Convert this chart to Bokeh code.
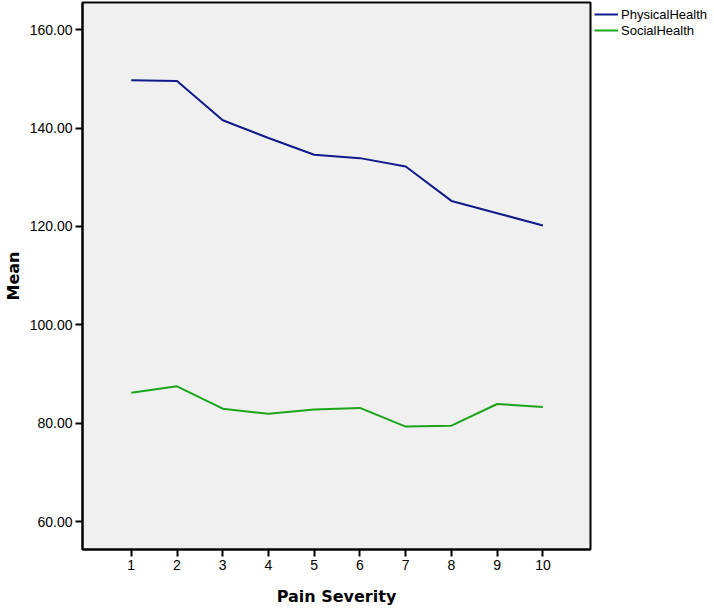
from bokeh.plotting import figure
from bokeh.models import Legend, LegendItem, Range1d, FixedTicker, NumeralTickFormatter
from bokeh.embed import file_html
from bokeh.resources import INLINE

pain_severity = [1, 2, 3, 4, 5, 6, 7, 8, 9, 10]
physical_health = [149.75, 149.6, 141.6, 138.0, 134.6, 133.9, 132.2, 125.2, 122.7, 120.2]
social_health = [86.2, 87.5, 82.95, 81.9, 82.8, 83.1, 79.3, 79.5, 83.9, 83.3]
y_ticks = [60, 80, 100, 120, 140, 160]

p = figure(frame_width=508, frame_height=547, output_backend="svg", toolbar_location=None,
           x_range=Range1d(-0.066, 11.04), y_range=Range1d(54.31, 165.55),
           min_border_left=76, min_border_right=0, min_border_top=2, min_border_bottom=52)

p.background_fill_color = "#f0f0f0"
p.border_fill_color = "white"
p.outline_line_color = "black"
p.outline_line_width = 2
p.xgrid.visible = False
p.ygrid.visible = False

r1 = p.line(pain_severity, physical_health, line_color="#101a8a", line_width=2)
r2 = p.line(pain_severity, social_health, line_color="#1aa51a", line_width=2)

for ax in (p.xaxis[0], p.yaxis[0]):
    ax.axis_line_color = "black"
    ax.axis_line_width = 2
    ax.major_tick_line_color = "black"
    ax.major_tick_line_width = 2
    ax.major_tick_out = 7
    ax.major_tick_in = 0
    ax.minor_tick_line_color = None
    ax.major_label_text_font = "Liberation Sans"
    ax.major_label_text_font_size = "14px"
    ax.major_label_text_color = "black"
    ax.major_label_standoff = 3
    ax.axis_label_text_font = "DejaVu Sans"
    ax.axis_label_text_font_size = "16px"
    ax.axis_label_text_font_style = "bold"
    ax.axis_label_text_color = "black"

p.xaxis.ticker = FixedTicker(ticks=pain_severity)
p.yaxis.ticker = FixedTicker(ticks=y_ticks)
p.yaxis.formatter = NumeralTickFormatter(format="0.00")
p.xaxis.axis_label = "Pain Severity"
p.yaxis.axis_label = "Mean"
p.xaxis.axis_label_standoff = 14
p.yaxis.axis_label_standoff = 4

legend = Legend(items=[LegendItem(label="PhysicalHealth", renderers=[r1]),
                       LegendItem(label="SocialHealth", renderers=[r2])],
                location="top_left", orientation="vertical")
legend.label_text_font = "Liberation Sans"
legend.label_text_font_size = "13px"
legend.label_text_color = "black"
legend.glyph_width = 24
legend.glyph_height = 16
legend.label_height = 16
legend.label_width = 10
legend.label_standoff = 3
legend.spacing = 0
legend.padding = 0
legend.margin = 4
legend.border_line_alpha = 0
legend.background_fill_alpha = 0
p.add_layout(legend, "right")

open("out.html", "w").write(file_html(p, INLINE))
